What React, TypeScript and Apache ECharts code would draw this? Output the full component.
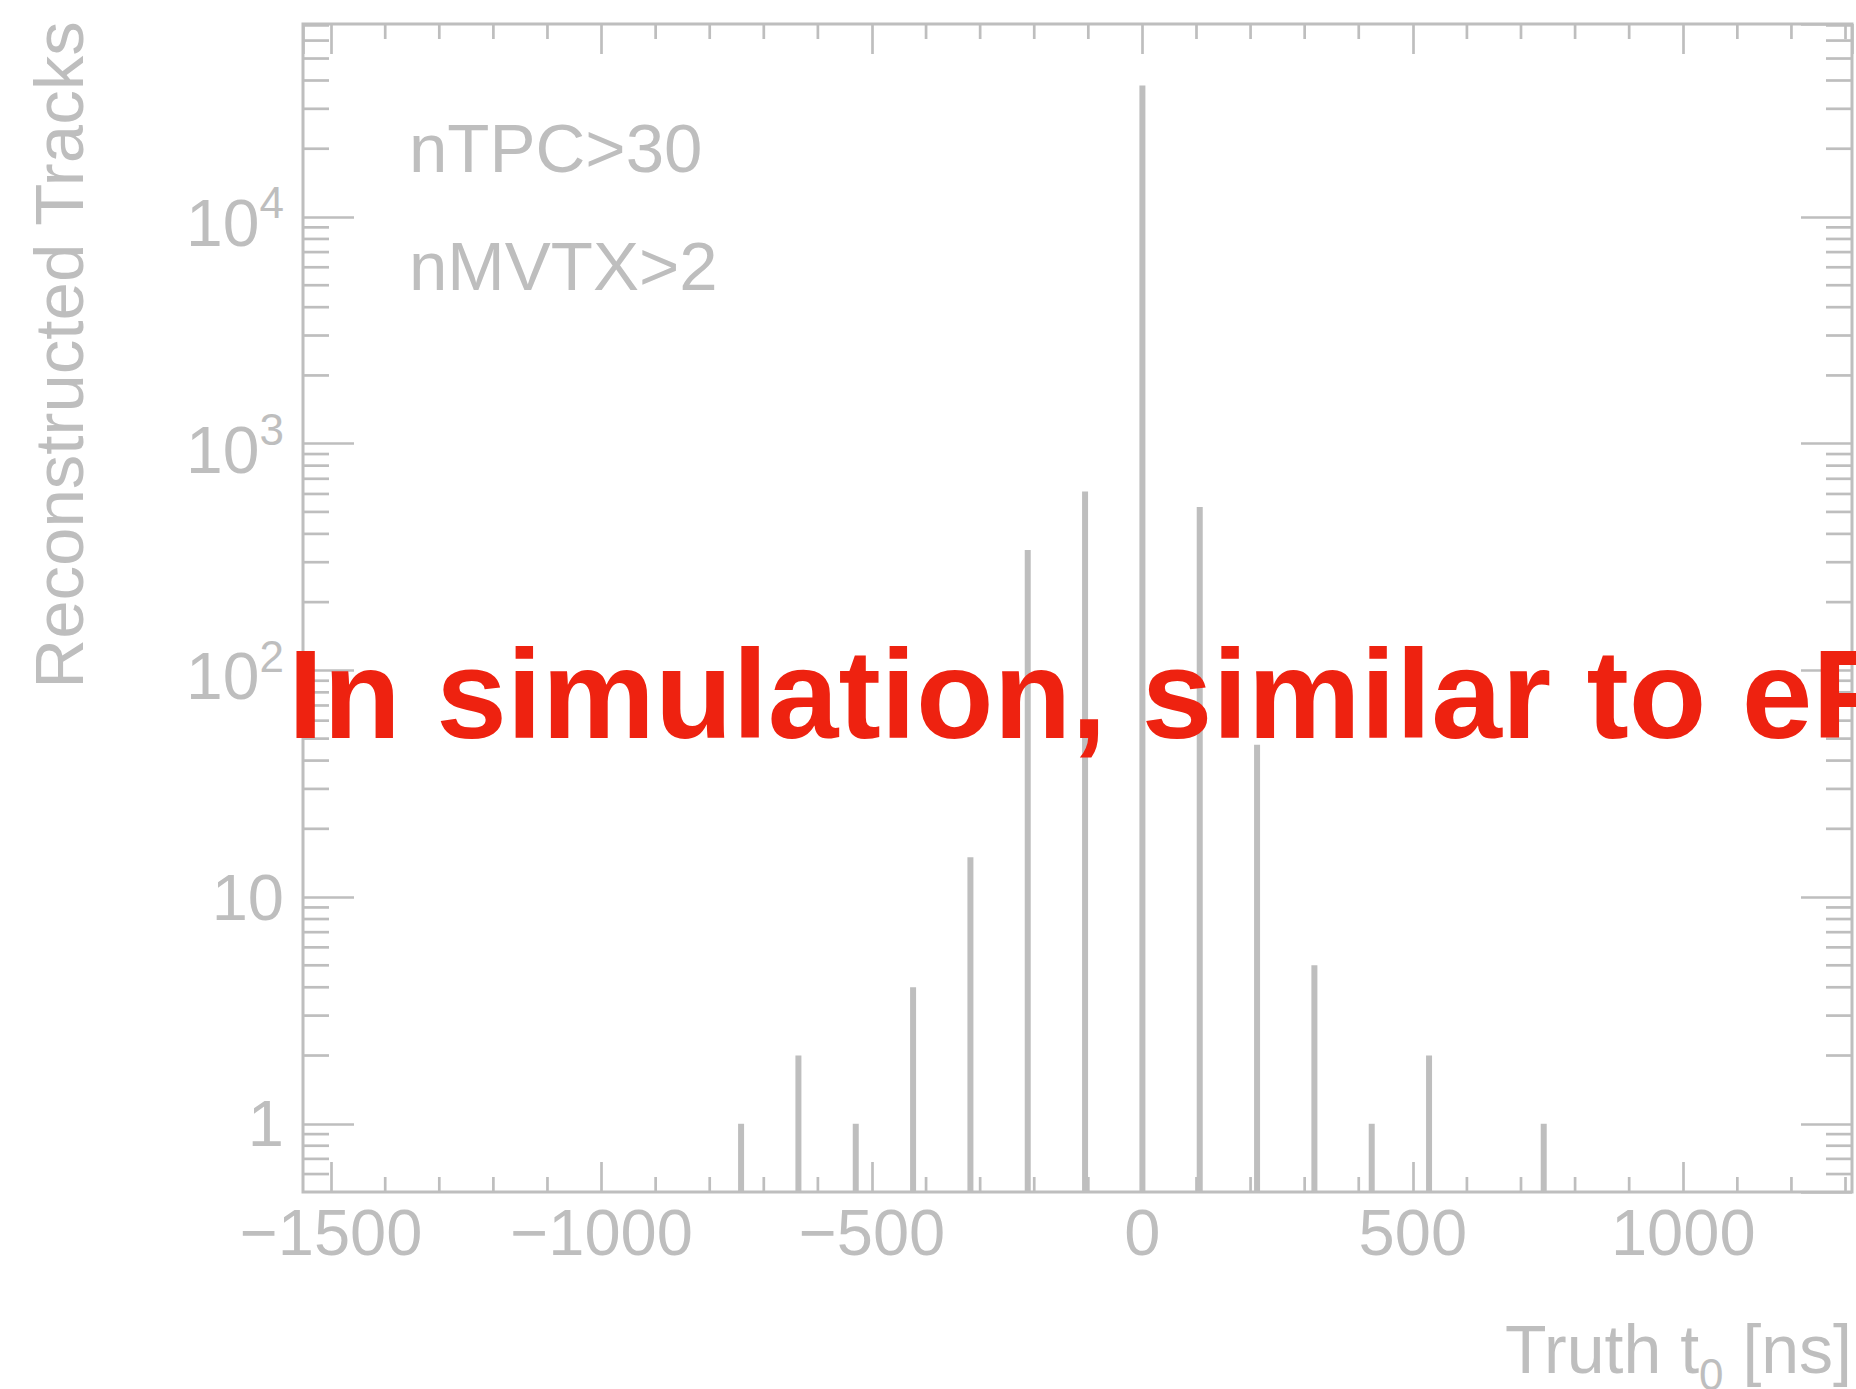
import React, { useEffect, useRef } from "react";
import * as echarts from "echarts";

// ---- data ----
const BIN_CENTERS = [-742, -636, -530, -424, -318, -212, -106, 0, 106, 212, 318, 424, 530, 742];
const TRACK_COUNTS = [1, 2, 1, 4, 15, 340, 615, 38000, 526, 47, 5, 1, 2, 1];
const X_MINOR_TICKS = [
  -1400, -1300, -1200, -1100, -900, -800, -700, -600, -400, -300, -200, -100,
  100, 200, 300, 400, 600, 700, 800, 900, 1100, 1200, 1300,
];
const Y_MINOR_TICKS = [
  0.6, 0.7, 0.8, 0.9,
  2, 3, 4, 5, 6, 7, 8, 9,
  20, 30, 40, 50, 60, 70, 80, 90,
  200, 300, 400, 500, 600, 700, 800, 900,
  2000, 3000, 4000, 5000, 6000, 7000, 8000, 9000,
  20000, 30000, 40000, 50000, 60000, 70000,
];
const X_MIN = -1552;
const X_MAX = 1312;
const Y_MIN = 0.5;
const Y_MAX = 71000;
const ANNOTATIONS = ["nTPC>30", "nMVTX>2"];
const X_TITLE = "{b|Truth t}{sub|0}{b| [ns]}";
const Y_TITLE = "Reconstructed Tracks";
const BANNER = "In simulation, similar to eP";

const GREY = "#BEBEBE";
const RED = "#EE2210";
const FONT = "Liberation Sans";

export default function App() {
  const ref = useRef<HTMLDivElement>(null);
  useEffect(() => {
    if (!ref.current) return;
    const chart = echarts.init(ref.current, undefined, { renderer: "svg" });
    const tick = (len: number) => ({ inside: true, length: len, lineStyle: { color: GREY, width: 2.7 } });
    const option: any = {
      animation: false,
      backgroundColor: "#ffffff",
      grid: {
        left: 303,
        right: 4,
        top: 24,
        bottom: 197,
        show: true,
        borderColor: GREY,
        borderWidth: 3,
        backgroundColor: "transparent",
      },
      xAxis: [
        {
          type: "value",
          min: X_MIN,
          max: X_MAX,
          position: "bottom",
          axisLine: { show: false, onZero: false },
          axisTick: tick(30),
          splitLine: { show: false },
          axisLabel: {
            fontSize: 65,
            fontFamily: FONT,
            color: GREY,
            margin: 8,
            showMinLabel: false,
            showMaxLabel: false,
            formatter: (v: number) => (v < 0 ? "\u2212" + Math.abs(v) : String(v)),
          },
        },
        {
          type: "value",
          min: X_MIN,
          max: X_MAX,
          position: "top",
          axisLine: { show: false, onZero: false },
          axisTick: tick(30),
          splitLine: { show: false },
          axisLabel: { show: false },
        },
      ],
      yAxis: [
        {
          type: "log",
          logBase: 10,
          min: Y_MIN,
          max: Y_MAX,
          position: "left",
          axisLine: { show: false, onZero: false },
          axisTick: tick(51),
          splitLine: { show: false },
          axisLabel: {
            fontSize: 65,
            fontFamily: FONT,
            color: GREY,
            margin: 19,
            showMinLabel: false,
            showMaxLabel: false,
            formatter: (v: number) => {
              const e = Math.log10(v);
              const r = Math.round(e);
              if (Math.abs(e - r) > 1e-6 || r < 0) return "";
              if (r === 0) return "1";
              if (r === 1) return "10";
              return "{b|10}{sup|" + r + "}";
            },
            rich: {
              b: {
                fontSize: 66,
                fontFamily: FONT,
                color: GREY,
                lineHeight: 66,
                padding: [12, 0, 0, 0],
              },
              sup: {
                fontSize: 44,
                fontFamily: FONT,
                color: GREY,
                lineHeight: 44,
                padding: [3, 0, 31, 0],
              },
            },
          },
        },
        {
          type: "log",
          logBase: 10,
          min: Y_MIN,
          max: Y_MAX,
          position: "right",
          axisLine: { show: false, onZero: false },
          axisTick: tick(51),
          splitLine: { show: false },
          axisLabel: { show: false },
        },
      ],
      series: [
        {
          type: "custom",
          name: "tracks",
          xAxisIndex: 0,
          yAxisIndex: 0,
          data: BIN_CENTERS.map((x, i) => [x, TRACK_COUNTS[i]]),
          renderItem: (params: any, api: any) => {
            const x = api.value(0);
            const y = api.value(1);
            const top = api.coord([x, y]);
            const bottom = api.coord([x, Y_MIN]);
            return {
              type: "rect",
              shape: { x: top[0] - 3, y: top[1], width: 6, height: bottom[1] - top[1] },
              style: { fill: GREY },
            };
          },
          z: 3,
        },
        {
          type: "custom",
          name: "xminor",
          xAxisIndex: 0,
          yAxisIndex: 0,
          silent: true,
          data: X_MINOR_TICKS.map((v) => [v, 1]),
          renderItem: (params: any, api: any) => {
            const p = api.coord([api.value(0), 1]);
            const cs = params.coordSys;
            const yb = cs.y + cs.height;
            return {
              type: "group",
              children: [
                { type: "line", shape: { x1: p[0], y1: yb, x2: p[0], y2: yb - 15 }, style: { stroke: GREY, lineWidth: 2.7 } },
                { type: "line", shape: { x1: p[0], y1: cs.y, x2: p[0], y2: cs.y + 15 }, style: { stroke: GREY, lineWidth: 2.7 } },
              ],
            };
          },
        },
        {
          type: "custom",
          name: "yminor",
          xAxisIndex: 0,
          yAxisIndex: 0,
          silent: true,
          data: Y_MINOR_TICKS.map((v) => [0, v]),
          renderItem: (params: any, api: any) => {
            const p = api.coord([0, api.value(1)]);
            const cs = params.coordSys;
            const xr = cs.x + cs.width;
            return {
              type: "group",
              children: [
                { type: "line", shape: { x1: cs.x, y1: p[1], x2: cs.x + 26, y2: p[1] }, style: { stroke: GREY, lineWidth: 2.7 } },
                { type: "line", shape: { x1: xr, y1: p[1], x2: xr - 26, y2: p[1] }, style: { stroke: GREY, lineWidth: 2.7 } },
              ],
            };
          },
        },
      ],
      graphic: [
        {
          type: "text",
          x: 59,
          y: 355,
          rotation: Math.PI / 2,
          style: {
            text: Y_TITLE,
            font: `69px "${FONT}"`,
            fill: GREY,
            align: "center",
            verticalAlign: "middle",
            textAlign: "center",
            textVerticalAlign: "middle",
          },
        },
        {
          type: "text",
          x: 1852,
          y: 1356,
          style: {
            text: X_TITLE,
            fill: GREY,
            align: "right",
            verticalAlign: "middle",
            textAlign: "right",
            textVerticalAlign: "middle",
            rich: {
              b: { fontSize: 68, fontFamily: FONT, color: GREY, lineHeight: 50, padding: [0, 0, 14, 0] },
              sub: { fontSize: 44, fontFamily: FONT, color: GREY, lineHeight: 28, padding: [36, 0, 0, 0] },
            },
          },
        },
        ...ANNOTATIONS.map((t, i) => ({
          type: "text",
          x: 409,
          y: 148 + i * 118,
          style: {
            text: t,
            font: `69px "${FONT}"`,
            fill: GREY,
            align: "left",
            verticalAlign: "middle",
            textAlign: "left",
            textVerticalAlign: "middle",
          },
        })),
        {
          type: "text",
          x: 288,
          y: 694,
          z: 100,
          style: {
            text: BANNER,
            font: `bold 127px "${FONT}"`,
            fill: RED,
            align: "left",
            verticalAlign: "middle",
            textAlign: "left",
            textVerticalAlign: "middle",
          },
        },
      ],
    };
    chart.setOption(option);
    return () => chart.dispose();
  }, []);
  return (
    <div
      ref={ref}
      style={{ position: "absolute", left: 0, top: 0, width: 1856, height: 1389 }}
    />
  );
}
